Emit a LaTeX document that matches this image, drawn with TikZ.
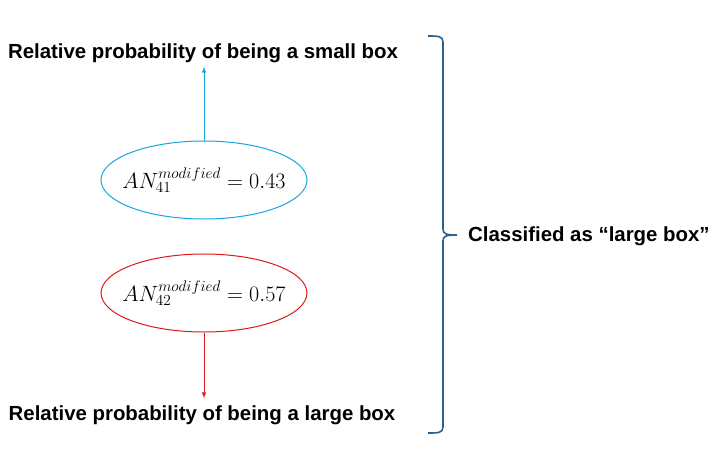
\documentclass[tikz,border=0pt]{standalone}
\usepackage{fontspec}
\setmainfont{Liberation Sans}
\usetikzlibrary{shapes.geometric,positioning}
\definecolor{skyblue}{RGB}{24,164,222}
\definecolor{brightred}{RGB}{222,24,24}
\definecolor{bracecol}{RGB}{46,96,142}

\begin{document}
\begin{tikzpicture}[x=1pt,y=-1pt,
        txt/.style={font=\fontsize{20.4}{24}\selectfont\bfseries, inner sep=0},
        anval/.style={ellipse, line width=1, minimum width=206, minimum height=78, inner xsep=-9, inner ysep=0, font=\fontsize{20.74}{26}\selectfont}]
        \useasboundingbox (0,0) rectangle (720,471);

        % ellipses
        \node[anval, draw=skyblue] (an41) at (204,180) {\scalebox{1.065}{$AN_{41}^{modified} = 0.43$}};
        \node[anval, draw=brightred] (an42) at (204,293) {\scalebox{1.065}{$AN_{42}^{modified} = 0.57$}};

        % labels
        \node[txt] (small) at (203,53) {Relative probability of being a small box};
        \node[txt] (large) at (202,415) {Relative probability of being a large box};

        % arrows
        \draw[-latex, line width=1, color=skyblue, shorten >=4] (an41.north) -- (an41.north |- small.south);
        \draw[-latex, line width=1, color=brightred, shorten >=7] (an42.south) -- (an42.south |- large.north);

        % brace
        \draw[bracecol, line width=1.6] (428,36) .. controls (438,36) and (443,36) .. (443,42)
            -- (443,229) .. controls (443,234) and (446,235) .. (457,235)
            .. controls (446,235) and (443,236) .. (443,241)
            -- (443,427) .. controls (443,433) and (438,433) .. (428,433);
        \node[txt, anchor=west] (cls) at (468,236) {Classified as “large box”};
    \end{tikzpicture}
\end{document}
